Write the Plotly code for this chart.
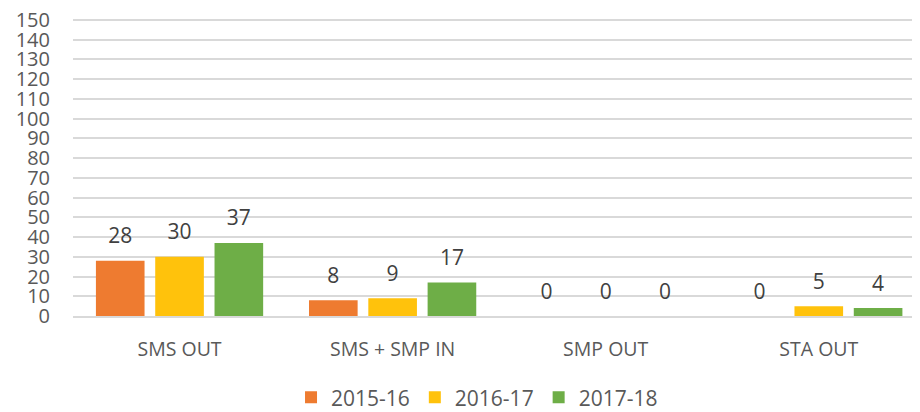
import plotly.graph_objects as go

categories = ["SMS OUT", "SMS + SMP IN", "SMP OUT", "STA OUT"]
series_names = ["2015-16", "2016-17", "2017-18"]
v2015 = [28, 8, 0, 0]
v2016 = [30, 9, 0, 5]
v2017 = [37, 17, 0, 4]
tick_vals = list(range(0, 151, 10))

colors = ["#EE7B30", "#FFC20C", "#6EAE47"]
values = [v2015, v2016, v2017]
FONT = "Open Sans"

fig = go.Figure()
for name, vals, col in zip(series_names, values, colors):
    fig.add_trace(go.Bar(
        x=categories, y=vals, name=name,
        marker=dict(color=col, line=dict(width=0)),
        hoverinfo="y",
    ))
for name, vals in zip(series_names, values):
    fig.add_trace(go.Scatter(
        x=categories, y=vals, name=name, mode="markers+text",
        text=[str(v) for v in vals], textposition="top center",
        textfont=dict(size=21, color="#404040", family=FONT),
        marker=dict(size=18, color="rgba(0,0,0,0)"),
        showlegend=False, hoverinfo="skip", cliponaxis=False,
    ))

# page body has an 8px default margin, so the figure is sized to fit the window
fig.update_layout(
    width=912, height=404,
    margin=dict(l=65, r=0, t=10, b=96, autoexpand=False),
    paper_bgcolor="white", plot_bgcolor="white",
    barmode="group", bargap=0.165, bargroupgap=0.18,
    scattermode="group", scattergap=0.165,
    font=dict(family=FONT, color="#595959"),
    showlegend=True,
    legend=dict(orientation="h", x=0.477, xanchor="center", y=-0.274, yanchor="middle",
                font=dict(size=21, color="#595959", family=FONT),
                traceorder="normal"),
)
fig.update_yaxes(range=[0, 151], tickvals=tick_vals, showgrid=True,
                 gridcolor="#D9D9D9", gridwidth=1.5, zeroline=False,
                 showline=False, tickfont=dict(size=20, color="#595959", family=FONT),
                 ticklabelstandoff=22, ticklabeloverflow="allow", automargin=False)
fig.update_xaxes(range=[-0.5, 3.475], showline=True, linecolor="#D9D9D9", linewidth=1.5,
                 tickfont=dict(size=19.5, color="#595959", family=FONT),
                 ticklabelstandoff=15, automargin=False)

fig.write_html("out.html")
